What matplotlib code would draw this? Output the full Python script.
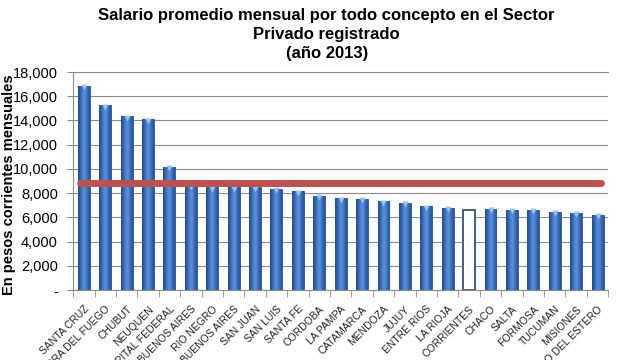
import matplotlib
matplotlib.use('Agg')
import matplotlib.pyplot as plt
import numpy as np
from matplotlib.ticker import FuncFormatter, FixedLocator

plt.rcParams['font.family'] = ['Liberation Sans', 'DejaVu Sans']

provincias = ['SANTA CRUZ', 'TIERRA DEL FUEGO', 'CHUBUT', 'NEUQUEN', 'CAPITAL FEDERAL',
              'GRAN BUENOS AIRES', 'RIO NEGRO', 'BUENOS AIRES', 'SAN JUAN', 'SAN LUIS',
              'SANTA FE', 'CORDOBA', 'LA PAMPA', 'CATAMARCA', 'MENDOZA', 'JUJUY',
              'ENTRE RIOS', 'LA RIOJA', 'CORRIENTES', 'CHACO', 'SALTA', 'FORMOSA',
              'TUCUMAN', 'MISIONES', 'SANTIAGO DEL ESTERO']
salarios = [16850, 15250, 14350, 14100, 10200, 8650, 8500, 8500, 8500, 8350,
            8150, 7800, 7600, 7550, 7330, 7190, 6910, 6780, 6640, 6720, 6640,
            6640, 6470, 6390, 6220]
promedio = 8850
resaltada = 'CORRIENTES'

fig = plt.figure(figsize=(6.2, 3.6), dpi=100)
ax = fig.add_axes([0.118, 0.194, 0.863, 0.606])

x = np.arange(len(provincias))
bars = ax.bar(x, salarios, width=0.56, color='#3a6cb2', edgecolor='#2c5490', linewidth=0.6, zorder=2)

# gradiente tipo cilindro
grad = np.array([[0.0, 0.35, 0.7, 1.0, 0.8, 0.45, 0.1]])
cmap = matplotlib.colors.LinearSegmentedColormap.from_list('cil', ['#21509a', '#5a92dc'])
for b, nombre in zip(bars, provincias):
    if nombre == resaltada:
        b.set_facecolor('white')
        b.set_edgecolor('#3f5f80')
        b.set_linewidth(1.4)
        continue
    x0, w, h = b.get_x(), b.get_width(), b.get_height()
    im = ax.imshow(grad, cmap=cmap, aspect='auto', extent=[x0, x0 + w, 0, h],
                   zorder=2.1, interpolation='bicubic')
    im.set_clip_path(b)
    ax.plot(x0 + w / 2, h - 120, marker='v', ms=4, color='#9cc3ef', mec='none', zorder=2.2)

ax.plot([-0.2, len(provincias) - 0.85], [promedio, promedio], color='#c0504d',
        lw=5, solid_capstyle='round', zorder=3)

ax.set_xlim(-0.5, len(provincias) - 0.5)
ax.set_ylim(0, 18000)
ax.set_yticks(np.arange(0, 18001, 2000))
ax.yaxis.set_major_formatter(FuncFormatter(lambda v, p: '-' if v == 0 else f'{int(v):,}'))
ax.grid(axis='y', color='#8c8c8c', linewidth=0.8, zorder=0)
ax.set_axisbelow(True)

ax.set_xticks(x)
ax.set_xticklabels(provincias, rotation=45, ha='right', rotation_mode='anchor', fontsize=7.5,
                   color='#222222')
ax.xaxis.set_minor_locator(FixedLocator(np.arange(-0.5, len(provincias), 1)))
ax.tick_params(axis='x', which='major', length=0, pad=10)
ax.tick_params(axis='x', which='minor', length=5, color='#8c8c8c')
ax.tick_params(axis='y', length=4, color='#8c8c8c', labelsize=10.5, pad=7)

for s in ['left', 'bottom', 'top']:
    ax.spines[s].set_color('#8c8c8c')
ax.spines['right'].set_visible(False)

fig.text(0.527, 0.978, 'Salario promedio mensual por todo concepto en el Sector\nPrivado registrado\n(año 2013)',
         ha='center', va='top', fontsize=12, fontweight='bold', linespacing=1.35)
fig.text(0.014, 0.486, 'En pesos corrientes mensuales', rotation=90, ha='center', va='center',
         fontsize=10.5, fontweight='bold')

fig.savefig('out.png', dpi=100)
